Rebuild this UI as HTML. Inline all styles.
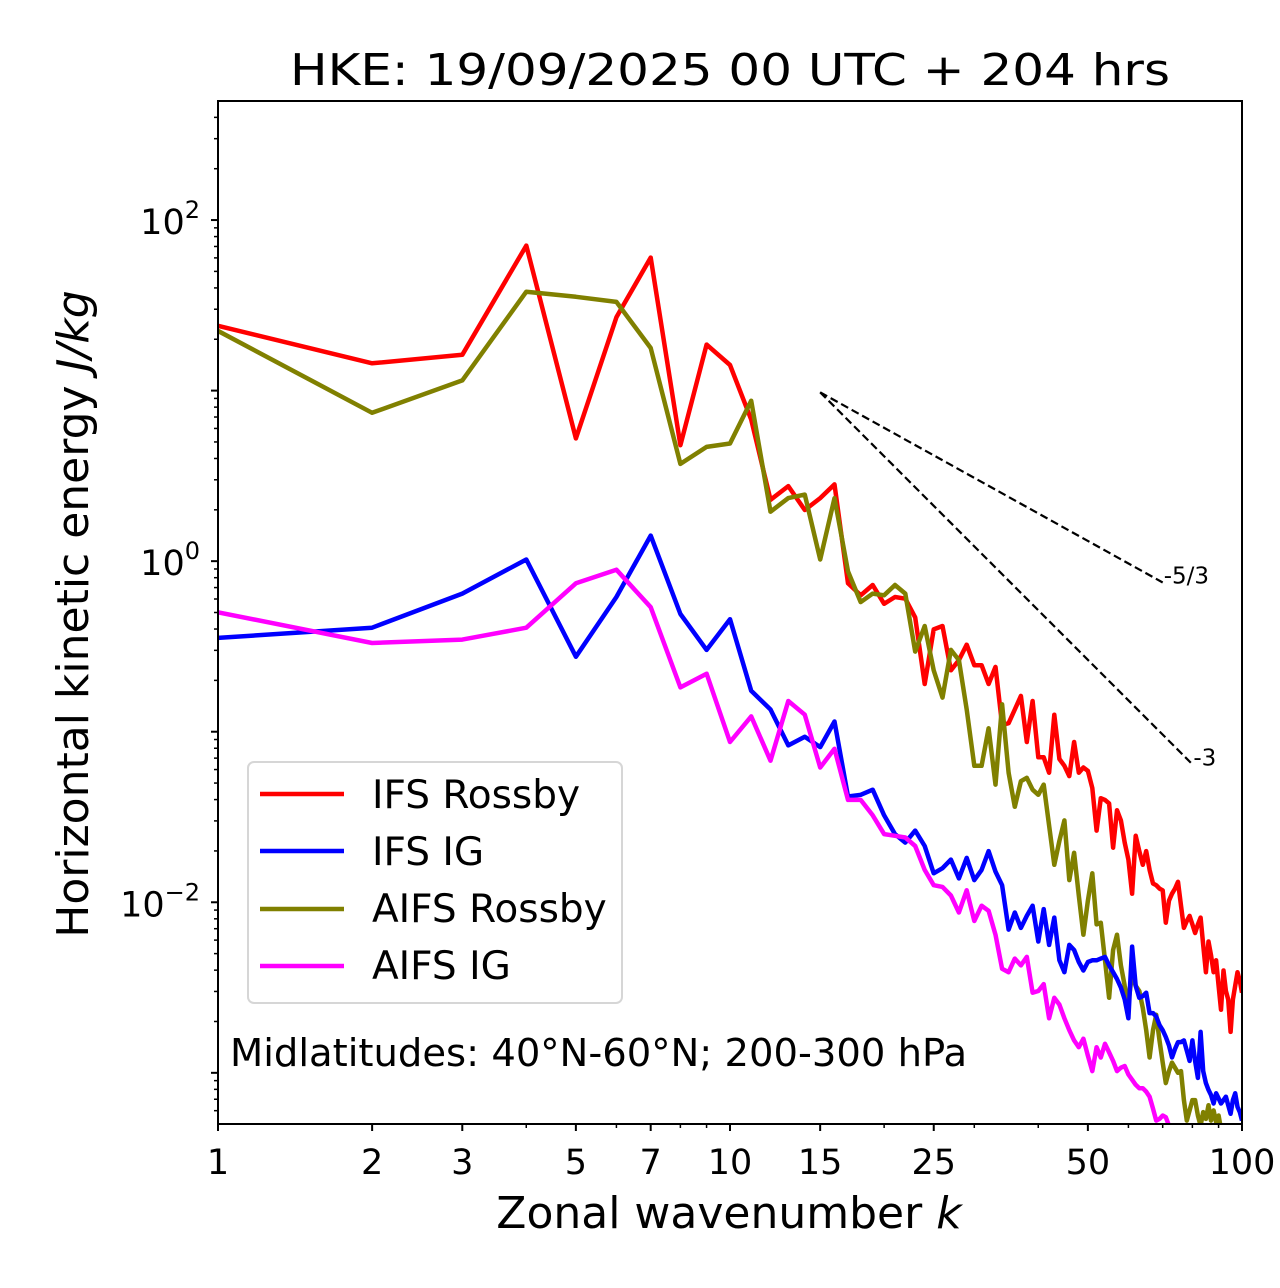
<!DOCTYPE html>
<html><head><meta charset="utf-8"><style>
html,body{margin:0;padding:0;background:#fff;}
svg{display:block;font-family:"DejaVu Sans","Liberation Sans",sans-serif;}
</style></head><body>
<svg id="chart" width="1280" height="1288" viewBox="0 0 1280 1288" xmlns="http://www.w3.org/2000/svg">
<rect x="0" y="0" width="1280" height="1288" fill="#fff"/>
<text x="730" y="85" text-anchor="middle" font-size="44" textLength="880" lengthAdjust="spacingAndGlyphs">HKE: 19/09/2025 00 UTC + 204 hrs</text>
<defs><clipPath id="plotclip"><rect x="218" y="101" width="1024" height="1023"/></clipPath></defs>
<g id="series" clip-path="url(#plotclip)"></g>
<g id="ref"></g>
<rect x="218" y="101" width="1024" height="1023" fill="none" stroke="#000" stroke-width="2"/>
<g id="xaxis"></g>
<g id="yaxis"></g>
<text x="729" y="1228" text-anchor="middle" font-size="44">Zonal wavenumber <tspan font-style="italic">k</tspan></text>
<text transform="translate(88,614) rotate(-90)" text-anchor="middle" font-size="44">Horizontal kinetic energy <tspan font-style="italic">J/kg</tspan></text>
<g>
<rect x="248" y="762" width="374" height="241" rx="6" fill="#fff" fill-opacity="0.8" stroke="#d6d6d6" stroke-width="2"/>
<g><line x1="260" y1="794" x2="344" y2="794" stroke="#ff0000" stroke-width="4.5"/><text x="372" y="808" font-size="39">IFS Rossby</text></g>
<g><line x1="260" y1="851" x2="344" y2="851" stroke="#0000ff" stroke-width="4.5"/><text x="372" y="865" font-size="39">IFS IG</text></g>
<g><line x1="260" y1="909" x2="344" y2="909" stroke="#808000" stroke-width="4.5"/><text x="372" y="922" font-size="39">AIFS Rossby</text></g>
<g><line x1="260" y1="966" x2="344" y2="966" stroke="#ff00ff" stroke-width="4.5"/><text x="372" y="979" font-size="39">AIFS IG</text></g>
</g>
<text x="230" y="1066" font-size="38.5">Midlatitudes: 40°N-60°N; 200-300 hPa</text>
</svg>
<script>
// log10 of energy (J/kg), wavenumbers k = 1..N
const ifsRossbyLog = [1.38,1.16,1.21,1.85,0.72,1.43,1.78,0.68,1.27,1.15,0.83,0.36,0.44,0.30,0.37,0.45,-0.13,-0.20,-0.14,-0.25,-0.21,-0.22,-0.33,-0.72,-0.40,-0.38,-0.64,-0.58,-0.49,-0.61,-0.61,-0.72,-0.62,-0.96,-0.95,-0.87,-0.79,-1.06,-0.82,-1.15,-1.15,-1.24,-0.90,-1.16,-1.20,-1.26,-1.06,-1.24,-1.21,-1.23,-1.33,-1.58,-1.39,-1.40,-1.42,-1.68,-1.46,-1.52,-1.65,-1.75,-1.95,-1.61,-1.70,-1.78,-1.70,-1.81,-1.89,-1.90,-1.92,-1.93,-2.12,-1.99,-1.95,-1.92,-1.88,-2.02,-2.15,-2.11,-2.08,-2.13,-2.18,-2.13,-2.09,-2.25,-2.41,-2.23,-2.31,-2.41,-2.34,-2.49,-2.63,-2.40,-2.52,-2.57,-2.76,-2.57,-2.49,-2.41,-2.46,-2.53];
const ifsIgLog = [-0.45,-0.39,-0.19,0.01,-0.56,-0.21,0.15,-0.31,-0.52,-0.34,-0.76,-0.87,-1.08,-1.03,-1.09,-0.94,-1.38,-1.37,-1.34,-1.49,-1.60,-1.65,-1.58,-1.67,-1.83,-1.80,-1.75,-1.86,-1.74,-1.87,-1.81,-1.70,-1.82,-1.90,-2.16,-2.06,-2.15,-2.08,-2.02,-2.23,-2.04,-2.25,-2.09,-2.34,-2.41,-2.25,-2.28,-2.35,-2.40,-2.35,-2.34,-2.34,-2.33,-2.32,-2.37,-2.41,-2.45,-2.50,-2.57,-2.68,-2.26,-2.49,-2.56,-2.55,-2.53,-2.65,-2.65,-2.67,-2.72,-2.75,-2.79,-2.84,-2.91,-2.86,-2.82,-2.82,-2.81,-2.87,-2.93,-2.81,-2.93,-3.03,-2.76,-2.99,-3.06,-3.10,-3.13,-3.18,-3.12,-3.15,-3.18,-3.16,-3.14,-3.19,-3.24,-3.16,-3.12,-3.20,-3.23,-3.28];
const aifsRossbyLog = [1.35,0.87,1.06,1.58,1.55,1.52,1.25,0.57,0.67,0.69,0.94,0.29,0.37,0.39,0.01,0.37,-0.06,-0.24,-0.19,-0.20,-0.14,-0.19,-0.53,-0.38,-0.64,-0.80,-0.52,-0.58,-0.87,-1.20,-1.20,-0.98,-1.31,-0.84,-1.24,-1.44,-1.29,-1.27,-1.34,-1.37,-1.31,-1.55,-1.78,-1.64,-1.52,-1.87,-1.71,-1.96,-2.19,-1.99,-1.83,-2.13,-2.12,-2.34,-2.56,-2.28,-2.19,-2.37,-2.49,-2.59,-2.42,-2.49,-2.52,-2.62,-2.75,-2.91,-2.75,-2.66,-2.81,-2.94,-3.06,-2.99,-2.94,-2.97,-3.00,-2.99,-3.16,-3.28,-3.22,-3.16,-3.16,-3.25,-3.31,-3.23,-3.27,-3.19,-3.28,-3.22,-3.29,-3.25,-3.33];
const aifsIgLog = [-0.30,-0.48,-0.46,-0.39,-0.13,-0.05,-0.27,-0.74,-0.66,-1.06,-0.91,-1.17,-0.82,-0.90,-1.21,-1.10,-1.40,-1.40,-1.49,-1.60,-1.61,-1.62,-1.67,-1.81,-1.90,-1.91,-1.96,-2.06,-1.93,-2.11,-2.02,-2.05,-2.19,-2.39,-2.41,-2.33,-2.37,-2.32,-2.53,-2.52,-2.48,-2.68,-2.56,-2.60,-2.68,-2.75,-2.81,-2.85,-2.80,-2.90,-2.99,-2.85,-2.91,-2.83,-2.88,-2.93,-2.99,-2.97,-2.96,-3.01,-3.04,-3.07,-3.09,-3.09,-3.11,-3.14,-3.21,-3.28,-3.27,-3.25,-3.26,-3.31,-3.34];
const xTickValues = [1,2,3,5,7,10,15,25,50,100];
const xTickLabels = ["1","2","3","5","7","10","15","25","50","100"];
const xMinorValues = [4,6,8,9,20,30,40,60,70,80,90];
const yDecades = [-2,0,2];
const yTickLabels = ["10","10","10"];
const yTickExps = ["−2","0","2"];
const refStartK = 15, refStartLog = 0.99;
const refSlopes = [-5/3, -3];
const refEndK = [70, 80];
const refLabels = ["-5/3","-3"];

const NS = "http://www.w3.org/2000/svg";
const X0 = 218, X1 = 1242, Y0 = 101, Y1 = 1124;
const xLogMin = 0, xLogMax = 2, yLogMin = -3.30, yLogMax = 2.698;
function xs(k){ return X0 + (Math.log10(k) - xLogMin) / (xLogMax - xLogMin) * (X1 - X0); }
function ys(lg){ return Y1 - (lg - yLogMin) / (yLogMax - yLogMin) * (Y1 - Y0); }
function mk(tag, attrs, parent){ const e = document.createElementNS(NS, tag); for (const a in attrs) e.setAttribute(a, attrs[a]); parent.appendChild(e); return e; }

const seriesG = document.getElementById('series');
function drawSeries(arr, color, name){
  const pts = arr.map((v,i)=> xs(i+1).toFixed(1)+','+ys(v).toFixed(1)).join(' ');
  const p = mk('polyline', {points: pts, fill:'none', stroke: color, 'stroke-width': 4.5, 'stroke-linejoin':'round'}, seriesG);
  
  
}
drawSeries(ifsRossbyLog, '#ff0000', 'ifs-rossby-line');
drawSeries(aifsRossbyLog, '#808000', 'aifs-rossby-line');
drawSeries(ifsIgLog, '#0000ff', 'ifs-ig-line');
drawSeries(aifsIgLog, '#ff00ff', 'aifs-ig-line');

const refG = document.getElementById('ref');
refSlopes.forEach((s, i) => {
  const endLog = refStartLog + s * Math.log10(refEndK[i] / refStartK);
  const l = mk('line', {x1: xs(refStartK), y1: ys(refStartLog), x2: xs(refEndK[i]), y2: ys(endLog), stroke:'#000', 'stroke-width':2.2, 'stroke-dasharray':'8,4'}, refG);
  
  
  const t = mk('text', {x: xs(refEndK[i]) + 1, y: ys(endLog) + 1, 'font-size': 23}, refG);
  t.textContent = refLabels[i];
  
  
});

const xg = document.getElementById('xaxis');
xTickValues.forEach((v, i) => {
  const x = xs(v);
  const tk = mk('line', {x1:x, y1:Y1, x2:x, y2:Y1+7, stroke:'#000', 'stroke-width':2}, xg);
  
  
  const t = mk('text', {x:x, y:1174, 'text-anchor':'middle', 'font-size':35}, xg);
  t.textContent = xTickLabels[i];
  
  
});
xMinorValues.forEach(v => {
  const x = xs(v);
  const tk = mk('line', {x1:x, y1:Y1, x2:x, y2:Y1+4, stroke:'#000', 'stroke-width':1.5}, xg);
  
  
});

const yg = document.getElementById('yaxis');
for (let d = -4; d <= 2; d++) {
  for (let m = 1; m <= 9; m++) {
    const lg = d + Math.log10(m);
    if (lg < yLogMin || lg > yLogMax) continue;
    const y = ys(lg);
    const len = (m === 1) ? 7 : 4;
    const tk = mk('line', {x1:X0-len, y1:y, x2:X0, y2:y, stroke:'#000', 'stroke-width': m===1?2:1.5}, yg);
    
    
  }
}
yDecades.forEach((d, i) => {
  const y = ys(d);
  const t = mk('text', {x: 200, y: y + 14, 'text-anchor':'end', 'font-size':35}, yg);
  
  
  const b = document.createElementNS(NS, 'tspan'); b.textContent = yTickLabels[i]; t.appendChild(b);
  const s = document.createElementNS(NS, 'tspan'); s.setAttribute('dy', -16); s.setAttribute('font-size', 24); s.textContent = yTickExps[i]; t.appendChild(s);
});
</script>
</body></html>
